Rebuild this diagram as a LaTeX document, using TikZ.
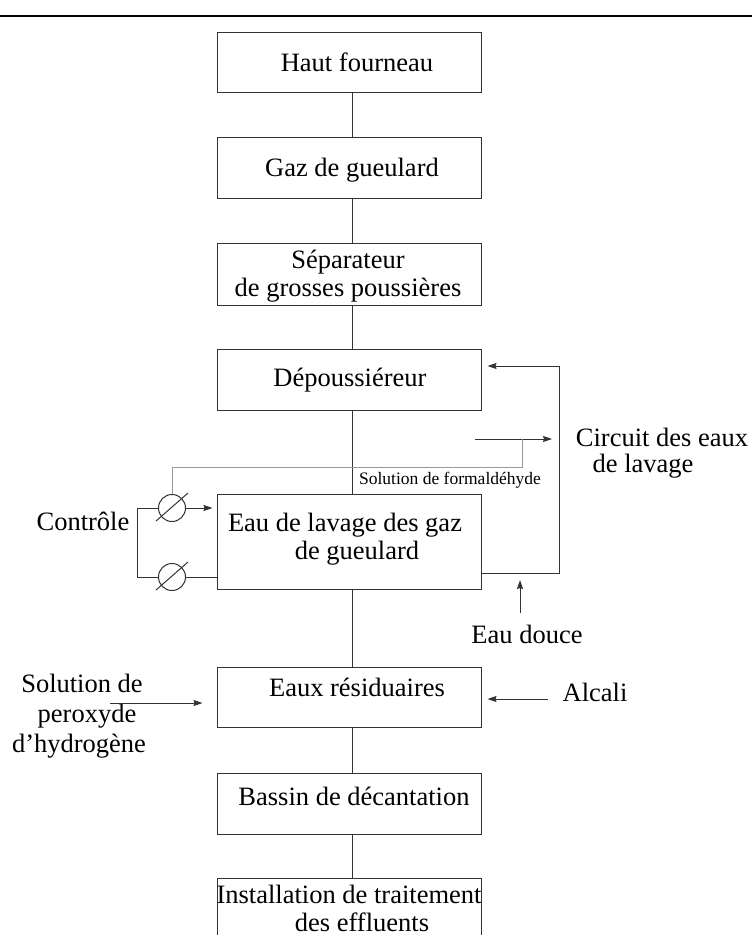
\documentclass[tikz,border=0pt]{standalone}
\usepackage{fontspec}
\setmainfont{Liberation Serif}
\usetikzlibrary{arrows.meta}
\begin{document}
\begin{tikzpicture}[x=1pt,y=-1pt,
  box/.style={draw=black!80, line width=1pt, minimum width=264pt, inner sep=0pt, anchor=center},
  txt/.style={font=\fontsize{26.5}{28}\selectfont, inner sep=0pt, anchor=base},
  small/.style={font=\fontsize{17.5}{20}\selectfont, inner sep=0pt, anchor=base},
  ln/.style={draw=black!80, line width=1pt},
  arr/.style={ln, -{Stealth[length=9pt,width=6pt,inset=1pt]}},
  gr/.style={draw=black!40, line width=0.8pt},
  circ/.style={circle, draw=black!80, line width=1pt, minimum size=27pt, inner sep=0pt}]
\useasboundingbox (0,0) rectangle (752,935);
\clip (0,0) rectangle (752,935);
\fill[white] (0,0) rectangle (752,935);
\draw[line width=1.5pt] (0,16) -- (752,16);

% boxes
\node[box, minimum height=60pt] (hf) at (349,62) {};
\node[box, minimum height=61pt] (gg) at (349,167.5) {};
\node[box, minimum height=62pt] (sep) at (349,274) {};
\node[box, minimum height=61pt] (dep) at (349,379.5) {};
\node[box, minimum height=95pt] (eau) at (349,541.5) {};
\node[box, minimum height=60pt] (res) at (349,697) {};
\node[box, minimum height=61pt] (bas) at (349,803.5) {};
\node[box, minimum height=92pt] (inst) at (349,924) {};

% box texts
\node[txt] (thf) at (357,71) {Haut fourneau};
\node[txt] (tgg) at (352,176) {Gaz de gueulard};
\node[txt] (tsep1) at (348,268) {Séparateur};
\node[txt] (tsep2) at (348,296) {de grosses poussières};
\node[txt] (tdep) at (350,386) {Dépoussiéreur};
\node[txt] (teau1) at (345,531) {Eau de lavage des gaz};
\node[txt] (teau2) at (357,559) {de gueulard};
\node[txt] (tres) at (357,696) {Eaux résiduaires};
\node[txt] (tbas) at (354,805) {Bassin de décantation};
\node[txt] (tinst1) at (349,903) {Installation de traitement};
\node[txt] (tinst2) at (362,931) {des effluents};

% main chain
\foreach \a/\b in {hf/gg, gg/sep, sep/dep, dep/eau, eau/res, res/bas, bas/inst}
  \draw[ln] ([xshift=3pt]\a.south) -- ([xshift=3pt]\b.north);

% recycle loop
\coordinate (r1) at (559,573);
\coordinate (r2) at (559,366);
\draw[arr, shorten >=6pt] (r1 -| eau.east) -- (r1) -- (r2) -- (r2 -| dep.east);
\node[txt] (tcirc1) at (662,446) {Circuit des eaux};
\node[txt] (tcirc2) at (643,472) {de lavage};

% eau douce
\coordinate (ed1) at (520,613);
\coordinate (ed2) at (520,580);
\draw[arr] (ed1) -- (ed2);
\node[txt] (tdouce) at (527,643) {Eau douce};

% formaldehyde
\coordinate (f1) at (475,439);
\coordinate (f2) at (552,439);
\draw[arr] (f1) -- (f2);
\node[txt, small] (tform) at (450,484) {Solution de formaldéhyde};

% control
\node[circ] (c1) at (172,508) {};
\node[circ] (c2) at (172,577) {};
\draw[ln] ([shift={(-16,13)}]c1.center) -- ([shift={(16,-15)}]c1.center);
\draw[ln] ([shift={(-16,13)}]c2.center) -- ([shift={(16,-15)}]c2.center);
\coordinate (b1) at (137,508);
\coordinate (b2) at (137,577);
\draw[ln] (c1.west) -- (b1) -- (b2) -- (c2.west);
\draw[arr, shorten >=4pt] (c1.east) -- (c1.east -| eau.west);
\draw[ln] (c2.east) -- (c2.east -| eau.west);
\node[txt] (tctrl) at (83,530) {Contrôle};
\coordinate (g1) at (172,467);
\coordinate (g2) at (522,467);
\draw[gr] (c1.north) -- (g1) -- (g2) -- (g2 |- f1);

% peroxyde
\node[txt] (tper1) at (82,692) {Solution de};
\node[txt] (tper2) at (87,722) {peroxyde};
\node[txt] (tper3) at (79,752) {d’hydrogène};
\coordinate (p1) at (110,703);
\draw[arr, shorten >=14pt] (p1) -- (p1 -| res.west);

% alcali
\coordinate (a1) at (548,699);
\draw[arr, shorten >=6pt] (a1) -- (a1 -| res.east);
\node[txt] (talc) at (595,701) {Alcali};
\end{tikzpicture}
\end{document}
